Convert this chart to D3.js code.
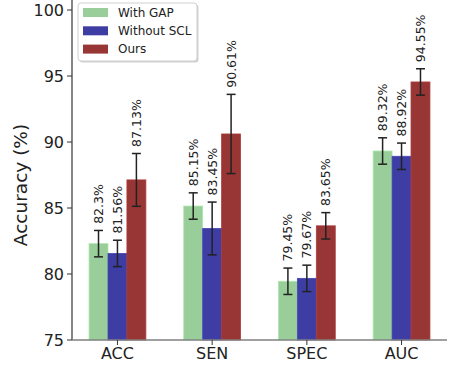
<!DOCTYPE html>
<html>
<head>
<meta charset="utf-8">
<script src="https://cdn.jsdelivr.net/npm/d3@7"></script>
<style>
  html, body { margin: 0; padding: 0; background: #fff; }
  svg { display: block; font-family: "DejaVu Sans", sans-serif; }
</style>
</head>
<body>
<svg id="chart" width="450" height="368"></svg>
<script>
// Metrics on the x axis
const categories = ["ACC", "SEN", "SPEC", "AUC"];
// Model variants shown as grouped bars
const seriesNames = ["With GAP", "Without SCL", "Ours"];
const seriesColors = ["#99cd99", "#3d3da3", "#983535"];
// Mean accuracy (%) per variant, in category order
const withGap = [82.3, 85.15, 79.45, 89.32];
const withoutScl = [81.56, 83.45, 79.67, 88.92];
const ours = [87.13, 90.61, 83.65, 94.55];
// Standard deviation per variant, in category order
const withGapErr = [1.0, 1.0, 1.0, 1.0];
const withoutSclErr = [1.0, 2.0, 1.0, 1.0];
const oursErr = [2.0, 3.0, 1.0, 1.0];
// Y tick values
const yTicks = [75, 80, 85, 90, 95, 100];

const seriesValues = [withGap, withoutScl, ours];
const seriesErrs = [withGapErr, withoutSclErr, oursErr];
const barWidth = 0.2;

const svg = d3.select("#chart");
const plotLeft = 72, plotRight = 447, plotTop = 0, plotBottom = 340;

const x = d3.scaleLinear().domain([-0.48, 3.48]).range([plotLeft, plotRight]);
const y = d3.scaleLinear().domain([75, 100.76]).range([plotBottom, plotTop]);

// Bars
seriesValues.forEach((vals, j) => {
  svg.append("g").selectAll("rect")
    .data(vals)
    .join("rect")
    .attr("x", (d, i) => x(i + (j - 1) * barWidth - barWidth / 2))
    .attr("width", x(barWidth) - x(0))
    .attr("y", d => y(d))
    .attr("height", d => y(75) - y(d))
    .attr("fill", seriesColors[j])
    .attr("stroke", d3.color(seriesColors[j]).brighter(0.35))
    .attr("stroke-width", 0.8);
});

// Error bars and value labels
seriesValues.forEach((vals, j) => {
  const g = svg.append("g");
  vals.forEach((v, i) => {
    const cx = x(i + (j - 1) * barWidth);
    const e = seriesErrs[j][i];
    const capHalf = 4.5;
    g.append("line").attr("x1", cx).attr("x2", cx)
      .attr("y1", y(v + e)).attr("y2", y(v - e))
      .attr("stroke", "#222").attr("stroke-width", 1.5);
    [v + e, v - e].forEach(t => {
      g.append("line").attr("x1", cx - capHalf).attr("x2", cx + capHalf)
        .attr("y1", y(t)).attr("y2", y(t))
        .attr("stroke", "#222").attr("stroke-width", 1.5);
    });
    const ly = y(v + e + 0.5);
    g.append("text")
      .attr("transform", `translate(${cx},${ly}) rotate(-90)`)
      .attr("dy", "0.36em")
      .attr("font-size", "12.5px")
      .attr("fill", "#222")
      .text(v + "%");
  });
});

// Y axis
const yAxis = svg.append("g");
yAxis.append("line").attr("x1", plotLeft).attr("x2", plotLeft)
  .attr("y1", plotTop).attr("y2", plotBottom)
  .attr("stroke", "#333").attr("stroke-width", 1.2);
yTicks.forEach(t => {
  yAxis.append("line").attr("x1", plotLeft - 5).attr("x2", plotLeft)
    .attr("y1", y(t)).attr("y2", y(t))
    .attr("stroke", "#333").attr("stroke-width", 1);
  yAxis.append("text")
    .attr("x", plotLeft - 8).attr("y", y(t)).attr("dy", "0.36em")
    .attr("text-anchor", "end")
    .attr("font-size", "16px").attr("fill", "#222")
    .text(t);
});
svg.append("text")
  .attr("transform", `translate(27,${(y(75) + y(100)) / 2 + 10}) rotate(-90)`)
  .attr("text-anchor", "middle")
  .attr("font-size", "18.5px").attr("fill", "#222")
  .text("Accuracy (%)");

// X axis
const xAxis = svg.append("g");
xAxis.append("line").attr("x1", plotLeft).attr("x2", plotRight)
  .attr("y1", plotBottom).attr("y2", plotBottom)
  .attr("stroke", "#808080").attr("stroke-width", 1.5);
categories.forEach((c, i) => {
  xAxis.append("line").attr("x1", x(i)).attr("x2", x(i))
    .attr("y1", plotBottom).attr("y2", plotBottom + 5)
    .attr("stroke", "#333").attr("stroke-width", 1);
  xAxis.append("text")
    .attr("x", x(i)).attr("y", plotBottom + 19)
    .attr("text-anchor", "middle")
    .attr("font-size", "16px").attr("fill", "#222")
    .text(c);
});

// Legend
const lg = svg.append("g").attr("transform", "translate(78,3)");
lg.append("rect").attr("x", 1.5).attr("y", 1.5).attr("width", 119).attr("height", 58)
  .attr("rx", 3).attr("fill", "#999").attr("opacity", 0.45);
lg.append("rect").attr("width", 119).attr("height", 58)
  .attr("rx", 3).attr("fill", "#fff").attr("stroke", "#d0d0d0").attr("stroke-width", 1);
seriesNames.forEach((name, j) => {
  const ry = 9.5 + j * 18.3;
  lg.append("rect").attr("x", 5).attr("y", ry - 4.5).attr("width", 25).attr("height", 9)
    .attr("fill", seriesColors[j]);
  lg.append("text").attr("x", 40).attr("y", ry).attr("dy", "0.36em")
    .attr("font-size", "12px").attr("fill", "#222")
    .text(name);
});
</script>
</body>
</html>
